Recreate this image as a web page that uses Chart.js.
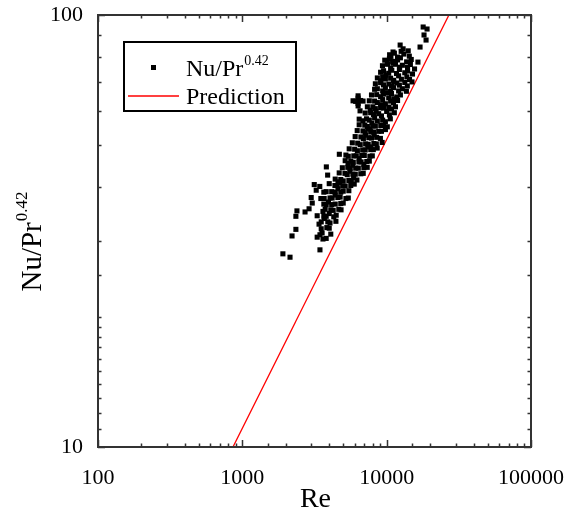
<!DOCTYPE html>
<html><head><meta charset="utf-8">
<script src="https://cdn.jsdelivr.net/npm/chart.js@4.4.1/dist/chart.umd.min.js"></script>
<style>html,body{margin:0;padding:0;background:#fff}</style>
</head><body>
<canvas id="c" width="578" height="516"></canvas>
<script>
// ---- data ----
const xTickLabels = [100, 1000, 10000, 100000];
const yTickLabels = [10, 100];
const predictionRe = [861, 27000];
const predictionNu = [10, 100];
// measured points [Re, Nu/Pr^0.42]
const measured = [
[17900,93.8],[19050,92.8],[18150,89.9],[18750,87.5],[17035,84.3],[16470,77.8],[14980,70.0],
[12400,85.2],[13000,83.5],[14100,82.6],[11070,82.1],[10700,80.2],
[10480,80.9],[11310,81.6],[11900,79.9],[13150,81.2],[14350,80.3],[12600,82.4],
[9700,78.6],[10450,79.2],[11000,78.1],[11900,78.7],[12450,79.6],[13750,77.9],[14800,78.9],[10100,77.4],
[9350,76.3],[10150,76.9],[10650,75.2],[11500,76.9],[12300,75.7],[12850,76.5],[13950,75.6],[14600,76.8],[15600,75.0],[11050,77.3],
[9080,73.7],[9520,74.3],[10330,73.3],[10850,74.5],[11700,73.2],[12250,74.8],[13350,73.5],[13950,74.2],[15100,73.0],[9850,72.6],
[8620,71.5],[9380,71.9],[9800,71.1],[10650,71.4],[11150,70.6],[12100,72.3],[12650,71.0],[13800,71.9],[14400,70.9],[9100,70.4],
[8350,69.3],[9080,69.7],[9500,68.9],[10350,69.2],[10800,68.4],[11750,69.6],[12250,68.8],[13350,69.8],[13900,68.5],[11200,70.1],
[8250,67.3],[8620,67.5],[9380,66.7],[9800,67.8],[10650,66.5],[11150,67.9],[12100,66.7],[12850,67.5],[13700,66.6],[10100,66.1],
[7850,65.3],[8530,65.4],[9080,64.7],[9500,65.6],[10330,64.3],[10800,65.8],[11750,64.6],[12450,65.3],[11200,64.0],
[5850,63.3],[6340,63.3],[6860,63.2],[6340,65.0],[6340,61.6],[6540,60.0],[6100,63.1],[6600,63.4],[6340,64.2],[6340,62.4],
[7580,63.3],[8250,63.2],[8620,62.7],[9380,63.7],[9800,62.3],[10650,63.2],[11150,62.6],[11900,63.4],[9100,62.0],
[7350,61.3],[8020,61.3],[8350,60.7],[9080,61.0],[9500,60.9],[10330,61.2],[10800,60.6],[11500,61.3],[7700,60.2],
[7100,59.3],[7750,59.4],[8100,58.8],[8800,59.1],[9200,58.4],[10000,59.8],[10450,58.7],[11300,59.4],[8450,59.9],
[6450,57.4],[6850,56.9],[7250,57.5],[7580,57.1],[8250,57.8],[8620,56.8],[9380,57.1],[9800,56.6],[10600,57.5],[7900,56.2],
[6450,55.7],[7050,55.6],[7350,55.2],[8020,55.4],[8350,55.3],[9100,55.5],[9500,55.5],[10100,55.1],[7700,54.5],
[6250,54.0],[6850,53.9],[7100,53.4],[7750,53.6],[8100,53.6],[8800,53.8],[9200,53.8],[9800,54.3],[7400,54.5],
[6050,52.3],[6630,52.2],[6900,51.7],[7520,52.0],[7850,51.9],[8530,52.1],[9050,51.8],[8200,52.8],[7150,52.7],
[5780,50.6],[6300,50.5],[6560,50.1],[7150,50.3],[7450,50.2],[8150,50.4],[8480,50.3],[9300,50.7],[7800,49.5],
[5500,49.0],[6000,48.9],[6270,48.5],[6820,48.7],[7100,48.7],[7760,48.8],[8080,48.8],[8600,49.2],[7400,49.5],
[4700,47.6],[5220,47.4],[5420,47.1],[5920,47.2],[6160,47.2],[6720,47.3],[7000,47.3],[7650,47.1],[7950,47.2],[6450,46.5],
[5160,46.0],[5640,45.9],[5870,45.6],[6420,45.7],[6650,45.7],[7280,45.8],[7580,45.9],[6950,45.1],[5400,45.3],
[3820,44.5],[4930,44.3],[5380,44.4],[5590,44.1],[6100,44.2],[6360,44.2],[6950,44.3],[7330,44.4],[5820,44.9],
[3900,42.6],[4690,43.1],[5140,43.0],[5330,42.7],[5830,42.8],[6060,42.8],[6620,42.9],[6880,43.0],[5560,43.5],
[4400,41.7],[4810,41.6],[5000,41.3],[5470,41.4],[5690,41.4],[6220,41.5],[5900,42.0],[4600,41.1],
[3150,40.5],[3440,40.1],[4000,40.7],[4380,40.3],[4540,40.3],[4960,40.2],[5160,40.2],[5640,40.3],[5960,40.6],[4750,40.9],
[3250,39.3],[3670,38.9],[3810,39.0],[4160,39.0],[4400,38.9],[4810,38.9],[5000,39.1],[5470,39.2],[4600,39.6],
[3000,37.8],[3500,37.6],[3690,37.6],[4050,37.7],[4190,37.7],[4590,37.8],[4760,37.9],[5220,37.6],[5420,37.7],[4400,38.3],
[3050,36.7],[3670,36.5],[3810,36.4],[4160,36.4],[4400,36.5],[4810,36.6],[5000,36.7],[3950,36.9],
[2390,35.2],[2720,35.0],[2900,35.6],[3620,35.1],[3750,35.5],[4100,35.4],[4260,35.3],[4660,35.5],[4830,35.4],
[2350,34.2],[3300,34.3],[3670,34.2],[3810,34.2],[4300,34.1],[4470,34.4],[4000,34.7],
[3400,32.8],[3520,33.2],[3910,33.2],[4050,33.0],[4450,33.3],[3700,33.8],
[2350,31.9],[3520,32.0],[3850,32.2],[4000,32.1],
[3450,31.0],[3570,31.3],[4100,31.1],
[2210,30.8],[3300,30.6],[3620,30.3],[3810,30.4],
[3450,28.6],[1910,28.0],[2140,27.5]
];
const seriesNames = ['Nu/Pr', '0.42', 'Prediction'];
const xTitle = 'Re';

const FONT = "'Liberation Serif', 'Times New Roman', serif";
const isLabelTick = (v, list) => list.some(t => Math.abs(t - v) / t < 1e-6);

const decorPlugin = {
  id: 'decor',
  afterDraw(chart) {
    const { ctx, chartArea: a, scales: { x, y } } = chart;
    ctx.save();
    ctx.strokeStyle = '#333';
    ctx.lineWidth = 1.5;
    ctx.beginPath();
    x.ticks.forEach(t => {
      const px = Math.round(x.getPixelForValue(t.value)) + 0.5;
      const L = isLabelTick(t.value, xTickLabels) ? 7 : 3.5;
      ctx.moveTo(px, a.bottom); ctx.lineTo(px, a.bottom - L);
      ctx.moveTo(px, a.top); ctx.lineTo(px, a.top + L);
    });
    y.ticks.forEach(t => {
      const py = Math.round(y.getPixelForValue(t.value)) + 0.5;
      const L = isLabelTick(t.value, yTickLabels) ? 7 : 3.5;
      ctx.moveTo(a.left, py); ctx.lineTo(a.left + L, py);
      ctx.moveTo(a.right, py); ctx.lineTo(a.right - L, py);
    });
    ctx.stroke();
    ctx.lineWidth = 2;
    ctx.strokeRect(a.left, a.top, a.right - a.left, a.bottom - a.top);

    // x title
    ctx.fillStyle = '#000';
    ctx.font = '28px ' + FONT;
    ctx.textAlign = 'center';
    ctx.textBaseline = 'alphabetic';
    ctx.fillText(xTitle, (a.left + a.right) / 2 + 1, 507);

    // y title rotated with superscript
    ctx.save();
    ctx.translate(41, 242);
    ctx.rotate(-Math.PI / 2);
    ctx.textAlign = 'left';
    ctx.font = '29px ' + FONT;
    const wb = ctx.measureText(seriesNames[0]).width;
    ctx.font = '17px ' + FONT;
    const ws = ctx.measureText(seriesNames[1]).width;
    const sx = -(wb + ws) / 2;
    ctx.font = '29px ' + FONT;
    ctx.fillText(seriesNames[0], sx, 0);
    ctx.font = '17px ' + FONT;
    ctx.fillText(seriesNames[1], sx + wb + 1, -14);
    ctx.restore();

    // legend
    ctx.lineWidth = 2;
    ctx.strokeStyle = '#000';
    ctx.strokeRect(124, 42, 172, 69);
    ctx.fillStyle = '#000';
    ctx.fillRect(151, 65, 5, 5);
    ctx.strokeStyle = '#ff0000';
    ctx.lineWidth = 1.3;
    ctx.beginPath(); ctx.moveTo(128, 96); ctx.lineTo(179, 96); ctx.stroke();
    ctx.textAlign = 'left';
    ctx.font = '24px ' + FONT;
    ctx.fillText(seriesNames[0], 186, 76);
    const lw = ctx.measureText(seriesNames[0]).width;
    ctx.font = '14px ' + FONT;
    ctx.fillText(seriesNames[1], 186 + lw + 1, 65);
    ctx.font = '24px ' + FONT;
    ctx.fillText(seriesNames[2], 186, 104);
    ctx.restore();
  }
};

new Chart(document.getElementById('c'), {
  type: 'scatter',
  data: {
    datasets: [
      {
        label: seriesNames[0],
        data: measured.map(p => ({ x: p[0], y: p[1] })),
        pointStyle: 'rect',
        pointRadius: 3.6,
        pointBorderWidth: 0,
        backgroundColor: '#000',
        borderColor: '#000'
      },
      {
        type: 'line',
        label: seriesNames[2],
        data: predictionRe.map((r, i) => ({ x: r, y: predictionNu[i] })),
        borderColor: '#ff0000',
        borderWidth: 1.3,
        pointRadius: 0,
        fill: false
      }
    ]
  },
  options: {
    responsive: false,
    animation: false,
    events: [],
    layout: { padding: { top: 15, right: 47, left: 0, bottom: 0 } },
    plugins: { legend: { display: false }, tooltip: { enabled: false } },
    scales: {
      x: {
        type: 'logarithmic', min: 100, max: 100000,
        grid: { display: false }, border: { display: false },
        ticks: {
          autoSkip: false, maxRotation: 0, padding: 10, color: '#000',
          font: { family: FONT, size: 22 },
          callback: v => isLabelTick(v, xTickLabels) ? String(v) : ''
        },
        afterFit: s => { s.height = 69; s.paddingLeft = 0; s.paddingRight = 0; }
      },
      y: {
        type: 'logarithmic', min: 10, max: 100,
        grid: { display: false }, border: { display: false },
        ticks: {
          autoSkip: false, padding: 7, color: '#000',
          font: { family: FONT, size: 22, lineHeight: 1 },
          callback: v => isLabelTick(v, yTickLabels) ? String(v) : ''
        },
        afterFit: s => { s.width = 98; s.paddingTop = 0; s.paddingBottom = 0; }
      }
    }
  },
  plugins: [decorPlugin]
});
</script>
</body></html>
